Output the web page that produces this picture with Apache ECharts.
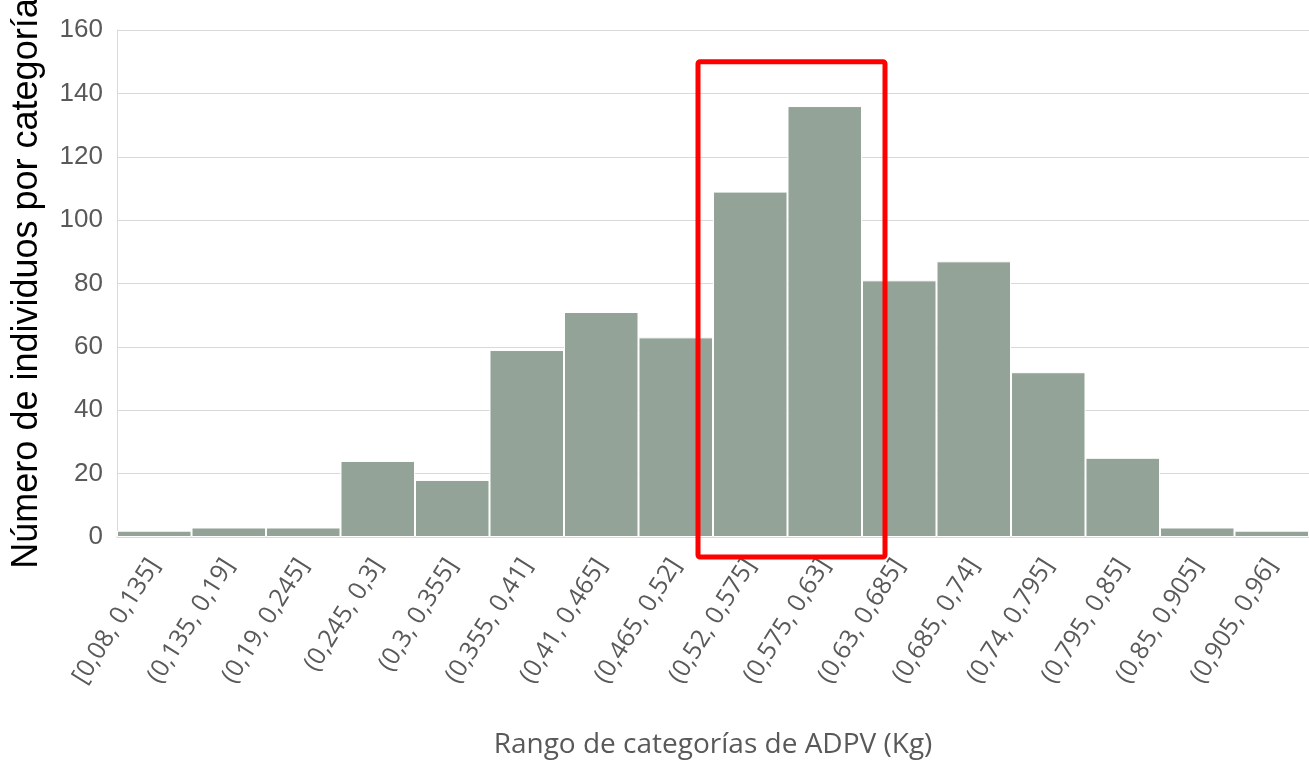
<!DOCTYPE html>
<html>
<head>
<meta charset="utf-8">
<script src="https://cdn.jsdelivr.net/npm/echarts@6/dist/echarts.min.js"></script>
<style>
  html, body { margin: 0; padding: 0; background: #fff; }
  #chart { width: 1309px; height: 762px; }
</style>
</head>
<body>
<div id="chart"></div>
<script>
var categorias = ['[0,08, 0,135]', '(0,135, 0,19]', '(0,19, 0,245]', '(0,245, 0,3]', '(0,3, 0,355]',
  '(0,355, 0,41]', '(0,41, 0,465]', '(0,465, 0,52]', '(0,52, 0,575]', '(0,575, 0,63]',
  '(0,63, 0,685]', '(0,685, 0,74]', '(0,74, 0,795]', '(0,795, 0,85]', '(0,85, 0,905]', '(0,905, 0,96]']
var individuos = [2, 3, 3, 24, 18, 59, 71, 63, 109, 136, 81, 87, 52, 25, 3, 2]
var yTicks = [0, 20, 40, 60, 80, 100, 120, 140, 160]
// bins framed by the red box
var destacados = [8, 9]
var topeRecuadro = 150

var chart = echarts.init(document.getElementById('chart'))
var option = {
  animation: false,
  grid: { left: 117, right: 0, top: 30, bottom: 225, containLabel: false, outerBoundsMode: 'none' },
  xAxis: {
    type: 'category',
    data: categorias,
    name: 'Rango de categorías de ADPV (Kg)',
    nameLocation: 'middle',
    nameGap: 194,
    nameTextStyle: { fontFamily: 'Open Sans', fontSize: 28, color: '#595959' },
    axisLine: { lineStyle: { color: '#d9d9d9', width: 1.5 } },
    axisTick: { show: false },
    axisLabel: {
      interval: 0,
      rotate: 58,
      margin: 24,
      fontFamily: 'Open Sans',
      fontSize: 25,
      color: '#595959'
    }
  },
  yAxis: {
    type: 'value',
    min: yTicks[0],
    max: yTicks[yTicks.length - 1],
    interval: 20,
    name: 'Número de individuos por categoría',
    nameLocation: 'middle',
    nameGap: 72,
    nameTextStyle: { fontFamily: 'Liberation Sans', fontSize: 36, color: '#000' },
    axisLine: { show: true, lineStyle: { color: '#d9d9d9' } },
    axisTick: { show: false },
    splitLine: { lineStyle: { color: '#d9d9d9', width: 1 } },
    axisLabel: { fontFamily: 'Liberation Sans', fontSize: 26, color: '#595959', margin: 14 }
  },
  series: [{
    type: 'bar',
    data: individuos,
    barCategoryGap: '0%',
    itemStyle: { color: '#93a398', borderColor: '#ffffff', borderWidth: 1 }
  }]
}
chart.setOption(option)

// red frame around the modal bins
var banda = chart.convertToPixel({ xAxisIndex: 0 }, categorias[1]) - chart.convertToPixel({ xAxisIndex: 0 }, categorias[0])
var x0 = chart.convertToPixel({ xAxisIndex: 0 }, categorias[destacados[0]]) - banda / 2 - 15
var x1 = chart.convertToPixel({ xAxisIndex: 0 }, categorias[destacados[1]]) + banda / 2 + 23
var y0 = chart.convertToPixel({ yAxisIndex: 0 }, topeRecuadro)
var y1 = chart.convertToPixel({ yAxisIndex: 0 }, 0) + 20
chart.setOption({
  graphic: [{
    type: 'rect',
    shape: { x: x0, y: y0, width: x1 - x0, height: y1 - y0, r: 2 },
    style: { fill: 'none', stroke: '#ff0000', lineWidth: 5 },
    z: 100
  }]
})
</script>
</body>
</html>
